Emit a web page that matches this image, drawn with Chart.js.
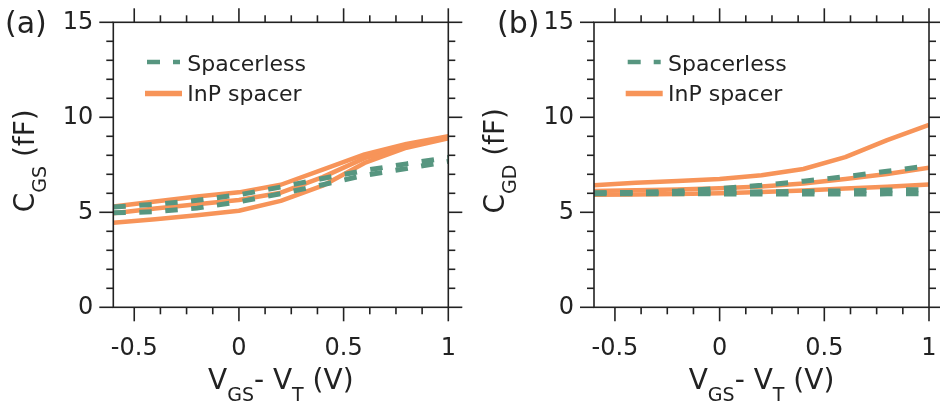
<!DOCTYPE html>
<html><head><meta charset="utf-8">
<script src="https://cdn.jsdelivr.net/npm/chart.js@4.4.1/dist/chart.umd.min.js"></script>
<style>
html,body{margin:0;padding:0;background:#fff;}
#wrap{position:relative;width:940px;height:407px;overflow:hidden;background:#fff;}
.panel{position:absolute;top:0;width:470px;height:407px;}
canvas{display:block;}
</style></head><body>
<div id="wrap">
<div class="panel" style="left:0"><canvas id="ca" width="470" height="407"></canvas></div>
<div class="panel" style="left:470px"><canvas id="cb" width="470" height="407"></canvas></div>
</div>
<script>
// ---------- data ----------
const xValues = [-0.6, -0.4, -0.2, 0, 0.2, 0.4, 0.6, 0.8, 1.0];

// panel (a) C_GS (fF)
const aInP1 = [5.3, 5.57, 5.83, 6.05, 6.45, 7.25, 8.05, 8.6, 9.0];
const aInP2 = [4.95, 5.2, 5.42, 5.65, 6.03, 6.85, 7.85, 8.45, 8.95];
const aInP3 = [4.45, 4.63, 4.85, 5.08, 5.6, 6.4, 7.6, 8.4, 8.9];
const aSpl1 = [5.28, 5.42, 5.63, 5.92, 6.33, 6.78, 7.2, 7.55, 7.88];
const aSpl2 = [4.97, 5.03, 5.22, 5.55, 5.98, 6.45, 6.95, 7.3, 7.68];

// panel (b) C_GD (fF)
const bInP1 = [6.42, 6.55, 6.65, 6.75, 6.95, 7.28, 7.9, 8.8, 9.6];
const bInP2 = [6.12, 6.16, 6.2, 6.27, 6.36, 6.52, 6.75, 7.02, 7.35];
const bInP3 = [5.92, 5.94, 5.96, 6.0, 6.07, 6.15, 6.25, 6.35, 6.46];
const bSpl1 = [6.02, 6.05, 6.12, 6.25, 6.42, 6.64, 6.87, 7.16, 7.45];
const bSpl2 = [6.02, 6.03, 6.04, 6.06, 6.08, 6.1, 6.13, 6.17, 6.2];
const bSpl3 = [5.97, 5.97, 5.97, 5.97, 5.96, 5.96, 5.96, 5.97, 5.97];

// ticks
const xMajorTicks = [-0.5, 0, 0.5, 1];
const xMinorTicks = [-0.375, -0.25, -0.125, 0.125, 0.25, 0.375, 0.625, 0.75, 0.875];
const yMajorTicks = [0, 5, 10, 15];
const yMinorTicks = [1, 2, 3, 4, 6, 7, 8, 9, 11, 12, 13, 14];
const xTickLabels = ['-0.5', '0', '0.5', '1'];
const legendLabels = ['Spacerless', 'InP spacer'];

// ---------- style ----------
const GREEN = '#579680';
const ORANGE = '#f79459';
const INK = '#222222';
const FONT = '"DejaVu Sans", Verdana, sans-serif';

function pts(ys){ return ys.map((y,i)=>({x:xValues[i], y:y})); }

function seg(ctx,x1,y1,x2,y2){ctx.beginPath();ctx.moveTo(x1,y1);ctx.lineTo(x2,y2);ctx.stroke();}

function drawRich(ctx, parts, cx, base){
  let w = 0;
  parts.forEach(p=>{ctx.font = p.size+'px '+FONT; p.w = ctx.measureText(p.t).width; w += p.w;});
  let x = cx - w/2;
  ctx.textAlign = 'left'; ctx.textBaseline = 'alphabetic';
  parts.forEach(p=>{ctx.font = p.size+'px '+FONT; ctx.fillText(p.t, x, base + (p.dy||0)); x += p.w;});
}

function makePlugin(cfg){
  return {
    id: 'frame_'+cfg.id,
    afterDatasetsDraw(chart){
      const ctx = chart.ctx, a = chart.chartArea, xs = chart.scales.x, ys = chart.scales.y;
      ctx.save();
      ctx.strokeStyle = INK; ctx.lineWidth = 1.6; ctx.lineCap = 'butt';
      ctx.strokeRect(a.left, a.top, a.right-a.left, a.bottom-a.top);
      const MAJ = 14, MIN = 7;
      xMajorTicks.forEach(v=>{const p = xs.getPixelForValue(v); seg(ctx,p,a.bottom,p,a.bottom+MAJ); seg(ctx,p,a.top,p,a.top-MAJ);});
      xMinorTicks.forEach(v=>{const p = xs.getPixelForValue(v); seg(ctx,p,a.bottom,p,a.bottom+MIN); seg(ctx,p,a.top,p,a.top-MIN);});
      yMajorTicks.forEach(v=>{const p = ys.getPixelForValue(v); seg(ctx,a.left-MAJ,p,a.left,p); seg(ctx,a.right,p,a.right+MAJ,p);});
      yMinorTicks.forEach(v=>{const p = ys.getPixelForValue(v); seg(ctx,a.left-MIN,p,a.left,p); seg(ctx,a.right,p,a.right+MIN,p);});
      ctx.restore();
    },
    afterDraw(chart){
      const ctx = chart.ctx, a = chart.chartArea;
      ctx.save();
      ctx.fillStyle = INK;
      // panel label
      ctx.font = '30px '+FONT; ctx.textAlign='left'; ctx.textBaseline='alphabetic';
      ctx.fillText(cfg.label, cfg.labelX, 33);
      // x title
      const cx = (a.left + a.right)/2;
      drawRich(ctx, [
        {t:'V', size:28}, {t:'GS', size:19, dy:12}, {t:'- V', size:28}, {t:'T', size:19, dy:12}, {t:' (V)', size:28}
      ], cx, 389);
      // y title
      ctx.save();
      ctx.translate(34, (a.top + a.bottom)/2 - 4);
      ctx.rotate(-Math.PI/2);
      drawRich(ctx, [
        {t:'C', size:28}, {t:cfg.ysub, size:19, dy:12}, {t:' (fF)', size:28}
      ], 0, 0);
      ctx.restore();
      // legend
      const L = a.left;
      ctx.lineCap = 'butt';
      ctx.strokeStyle = GREEN; ctx.lineWidth = 4.5; ctx.setLineDash([13,13]);
      seg(ctx, L+33.7, 62, L+66.7, 62);
      ctx.setLineDash([]);
      ctx.strokeStyle = ORANGE; ctx.lineWidth = 5.5;
      seg(ctx, L+31.7, 93.5, L+68.7, 93.5);
      ctx.font = '22px '+FONT; ctx.fillStyle = INK; ctx.textAlign='left'; ctx.textBaseline='alphabetic';
      ctx.fillText(legendLabels[0], L+74, 71);
      ctx.fillText(legendLabels[1], L+74, 101);
      ctx.restore();
    }
  };
}

function makeChart(cfg){
  const ds = [];
  cfg.spl.forEach(s=>ds.push({data:pts(s), borderColor:GREEN, borderWidth:5, borderDash:[12.5,13.5], borderCapStyle:'butt', pointRadius:0, tension:0, order:0, fill:false}));
  cfg.inp.forEach(s=>ds.push({data:pts(s), borderColor:ORANGE, borderWidth:4.5, pointRadius:0, tension:0, order:1, fill:false, borderJoinStyle:'round'}));
  const left = cfg.left, right = cfg.right;
  return new Chart(document.getElementById(cfg.id), {
    type: 'line',
    data: { datasets: ds },
    options: {
      responsive:false, animation:false, devicePixelRatio:1,
      layout:{ padding:{ left:0, top:22.3, right:470-right, bottom:0 } },
      plugins:{ legend:{display:false}, tooltip:{enabled:false}, title:{display:false} },
      scales:{
        x:{ type:'linear', min:-0.6, max:1,
            afterBuildTicks:s=>{ s.ticks = xMajorTicks.map(v=>({value:v})); },
            afterFit:s=>{ s.height = 407 - 307.3; s.paddingLeft = 0; s.paddingRight = 0; s.paddingTop = 0; s.paddingBottom = 0; },
            grid:{display:false, drawTicks:false}, border:{display:false},
            ticks:{ color:INK, font:{family:FONT, size:24}, padding:27, maxRotation:0, autoSkip:false,
                    callback:(v)=>{ const i = xMajorTicks.indexOf(v); return i>=0 ? xTickLabels[i] : ''; } } },
        y:{ type:'linear', min:0, max:15,
            afterBuildTicks:s=>{ s.ticks = yMajorTicks.map(v=>({value:v})); },
            afterFit:s=>{ s.width = left; s.paddingLeft = 0; s.paddingRight = 0; s.paddingTop = 0; s.paddingBottom = 0; },
            grid:{display:false, drawTicks:false}, border:{display:false},
            ticks:{ color:INK, font:{family:FONT, size:24}, padding:20, callback:(v)=>String(v) } }
      }
    },
    plugins:[makePlugin(cfg)]
  });
}

makeChart({id:'ca', left:113.3, right:448.3, label:'(a)', labelX:5, ysub:'GS', inp:[aInP1,aInP2,aInP3], spl:[aSpl1,aSpl2]});
makeChart({id:'cb', left:124, right:459, label:'(b)', labelX:27, ysub:'GD', inp:[bInP1,bInP2,bInP3], spl:[bSpl1,bSpl2,bSpl3]});
</script>
</body></html>
